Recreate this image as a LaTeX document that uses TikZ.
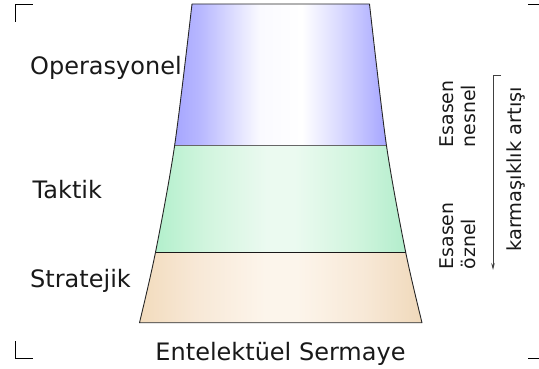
\documentclass[tikz,border=0pt]{standalone}
\usepackage{fontspec}
\setmainfont{DejaVu Sans}
\usetikzlibrary{arrows.meta}
\pgfdeclarehorizontalshading{bluegrad}{100bp}{%
  rgb(0bp)=(0.65,0.65,1); rgb(25bp)=(0.65,0.65,1); rgb(31bp)=(0.72,0.72,1);
  rgb(45bp)=(0.98,0.98,1); rgb(55bp)=(1,1,1); rgb(64bp)=(0.85,0.85,1);
  rgb(75bp)=(0.65,0.65,1); rgb(100bp)=(0.65,0.65,1)}
\pgfdeclarehorizontalshading{greengrad}{100bp}{%
  rgb(0bp)=(0.70,0.94,0.80); rgb(25bp)=(0.70,0.94,0.80); rgb(35bp)=(0.82,0.96,0.87);
  rgb(47bp)=(0.92,0.98,0.94); rgb(53bp)=(0.92,0.98,0.94); rgb(65bp)=(0.82,0.96,0.87);
  rgb(75bp)=(0.70,0.93,0.80); rgb(100bp)=(0.70,0.93,0.80)}
\pgfdeclarehorizontalshading{tangrad}{100bp}{%
  rgb(0bp)=(0.95,0.86,0.74); rgb(25bp)=(0.95,0.86,0.74); rgb(35bp)=(0.97,0.91,0.84);
  rgb(47bp)=(0.99,0.96,0.92); rgb(53bp)=(0.99,0.96,0.92); rgb(65bp)=(0.97,0.91,0.84);
  rgb(75bp)=(0.94,0.85,0.73); rgb(100bp)=(0.94,0.85,0.73)}
\tikzset{
  bandline/.style={draw=black!85, line width=0.9pt, line join=round},
  sepline/.style={line width=0.9pt},
  biglabel/.style={inner sep=0pt, font=\fontsize{24}{28}\selectfont, text=black!90},
  smalllabel/.style={inner sep=0pt, font=\fontsize{18.9}{22}\selectfont, text=black!90, rotate=90},
  cornermark/.style={draw=black, line width=1pt},
  arrowline/.style={draw=black!75, line width=0.8pt},
}
\begin{document}
\begin{tikzpicture}[x=1pt,y=-1pt]
\useasboundingbox (0,0) rectangle (539,369);
% trapezoid corners
\coordinate (tl) at (192,4);
\coordinate (tr) at (369.5,4);
\coordinate (bl1) at (174.6,145.7);
\coordinate (br1) at (386.5,145.7);
\coordinate (bl2) at (155.5,252.3);
\coordinate (br2) at (405.7,252.3);
\coordinate (bl3) at (139.5,322.7);
\coordinate (br3) at (422,322.7);
% bands
\begin{scope}
  \clip plot[smooth] coordinates {(tl) (bl1) (bl2) (bl3)}
     -- plot[smooth] coordinates {(br3) (br2) (br1) (tr)} -- cycle;
  \shade[shading=bluegrad] (174.6,0) rectangle (386.5,145.7);
  \shade[shading=greengrad] (155.5,145.7) rectangle (405.7,252.3);
  \shade[shading=tangrad] (139.5,252.3) rectangle (422,325);
\end{scope}
\draw[sepline, draw=black!60] (bl1) -- (br1);
\draw[sepline, draw=black!90] (bl2) -- (br2);
\draw[bandline] plot[smooth] coordinates {(tl) (bl1) (bl2) (bl3)}
     -- plot[smooth] coordinates {(br3) (br2) (br1) (tr)} -- cycle;
% corner marks
\draw[cornermark] (15.5,22) -- (15.5,4.5) -- (33.3,4.5);
\draw[cornermark] (15.5,341.3) -- (15.5,358.7) -- (33,358.7);
\draw[cornermark] (528,4.7) -- (539,4.7);
\draw[cornermark] (528,358.7) -- (539,358.7);
% left labels
\node[biglabel, anchor=base west] (oper) at (30,75) {Operasyonel};
\node[biglabel, anchor=base west] (takt) at (32.5,198.3) {Taktik};
\node[biglabel, anchor=base west] (strat) at (30,287.3) {Stratejik};
\node[biglabel, anchor=base] (ent) at (280.5,360) {Entelektüel Sermaye};
% right labels
\node[smalllabel, anchor=base west] (esasenA) at (453,147.5) {Esasen};
\node[smalllabel, anchor=base west] (nesnel) at (475,147.5) {nesnel};
\node[smalllabel, anchor=base west] (esasenB) at (453,269.5) {Esasen};
\node[smalllabel, anchor=base west] (oznel) at (475,269.5) {öznel};
\node[smalllabel, anchor=base, font=\fontsize{19.4}{22}\selectfont] (karm) at (521.7,169.2) {karmaşıklık artışı};
% arrow
\coordinate (atick) at (501,75);
\coordinate (atop) at (493,75);
\coordinate (abot) at (493,270);
\draw[arrowline, -{Stealth[length=7pt,width=3.5pt]}] (atick) -- (atop) -- (abot);
\end{tikzpicture}
\end{document}
